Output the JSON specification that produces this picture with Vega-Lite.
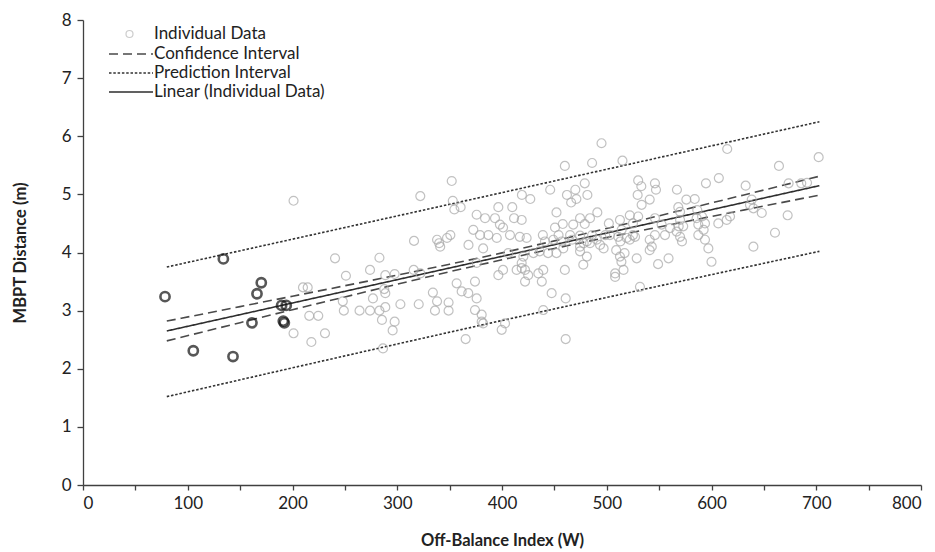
{
  "$schema": "https://vega.github.io/schema/vega-lite/v6.json",
  "width": 838,
  "height": 465,
  "autosize": {"type": "none"},
  "padding": {"left": 83, "top": 20, "right": 14, "bottom": 67},
  "config": {
    "view": {"stroke": null},
    "font": "Lato",
    "axis": {"domainColor": "#404040", "tickColor": "#404040", "labelColor": "#222222", "titleColor": "#222222", "labelFont": "Lato", "titleFont": "Lato", "labelFontSize": 17, "titleFontSize": 16.5, "titleFontWeight": "bold", "grid": false, "tickSize": 5, "domainWidth": 1.3, "tickWidth": 1.3},
    "legend": {"labelFont": "Lato", "labelFontSize": 17, "labelColor": "#222222", "labelLimit": 0, "title": null}
  },
  "datasets": {
    "gray": [
      {"x":201,"y":4.89,"series":"Individual Data"},{"x":240.6,"y":3.90,"series":"Individual Data"},{"x":251,"y":3.60,"series":"Individual Data"},{"x":210,"y":3.40,"series":"Individual Data"},{"x":214.5,"y":3.40,"series":"Individual Data"},{"x":216,"y":2.91,"series":"Individual Data"},{"x":224.6,"y":2.91,"series":"Individual Data"},{"x":201,"y":2.61,"series":"Individual Data"},{"x":218,"y":2.46,"series":"Individual Data"},{"x":231,"y":2.61,"series":"Individual Data"},{"x":248,"y":3.16,"series":"Individual Data"},{"x":249,"y":3.00,"series":"Individual Data"},{"x":264,"y":3.00,"series":"Individual Data"},
      {"x":322,"y":4.97,"series":"Individual Data"},{"x":352,"y":5.23,"series":"Individual Data"},{"x":353,"y":4.89,"series":"Individual Data"},{"x":354.5,"y":4.74,"series":"Individual Data"},{"x":360.5,"y":4.78,"series":"Individual Data"},{"x":316,"y":4.20,"series":"Individual Data"},{"x":338,"y":4.22,"series":"Individual Data"},{"x":340,"y":4.16,"series":"Individual Data"},{"x":341,"y":4.10,"series":"Individual Data"},{"x":347.5,"y":4.25,"series":"Individual Data"},{"x":350.7,"y":4.30,"series":"Individual Data"},{"x":283,"y":3.91,"series":"Individual Data"},{"x":274,"y":3.70,"series":"Individual Data"},{"x":288.6,"y":3.61,"series":"Individual Data"},{"x":297.5,"y":3.63,"series":"Individual Data"},{"x":315.7,"y":3.70,"series":"Individual Data"},{"x":322,"y":3.64,"series":"Individual Data"},{"x":287.6,"y":3.37,"series":"Individual Data"},{"x":288.6,"y":3.30,"series":"Individual Data"},{"x":276.8,"y":3.21,"series":"Individual Data"},{"x":334,"y":3.31,"series":"Individual Data"},{"x":338,"y":3.16,"series":"Individual Data"},{"x":349,"y":3.14,"series":"Individual Data"},{"x":274,"y":3.00,"series":"Individual Data"},{"x":283,"y":3.00,"series":"Individual Data"},{"x":288.6,"y":3.06,"series":"Individual Data"},{"x":303,"y":3.11,"series":"Individual Data"},{"x":320.5,"y":3.11,"series":"Individual Data"},{"x":336,"y":3.00,"series":"Individual Data"},{"x":349,"y":3.00,"series":"Individual Data"},{"x":285.4,"y":2.84,"series":"Individual Data"},{"x":297.5,"y":2.81,"series":"Individual Data"},{"x":295.6,"y":2.66,"series":"Individual Data"},{"x":286.4,"y":2.35,"series":"Individual Data"},
      {"x":495,"y":5.88,"series":"Individual Data"},{"x":460,"y":5.49,"series":"Individual Data"},{"x":486,"y":5.54,"series":"Individual Data"},{"x":515,"y":5.58,"series":"Individual Data"},{"x":479,"y":5.19,"series":"Individual Data"},{"x":446,"y":5.08,"series":"Individual Data"},{"x":419,"y":4.99,"series":"Individual Data"},{"x":427,"y":4.92,"series":"Individual Data"},{"x":462,"y":4.99,"series":"Individual Data"},{"x":470,"y":5.08,"series":"Individual Data"},{"x":481.5,"y":4.99,"series":"Individual Data"},{"x":466,"y":4.86,"series":"Individual Data"},{"x":471,"y":4.92,"series":"Individual Data"},{"x":530,"y":5.24,"series":"Individual Data"},{"x":533,"y":5.14,"series":"Individual Data"},{"x":529.5,"y":4.99,"series":"Individual Data"},{"x":396.5,"y":4.78,"series":"Individual Data"},{"x":409.8,"y":4.78,"series":"Individual Data"},{"x":375.8,"y":4.65,"series":"Individual Data"},{"x":383.8,"y":4.59,"series":"Individual Data"},{"x":393.3,"y":4.59,"series":"Individual Data"},{"x":411.5,"y":4.59,"series":"Individual Data"},{"x":418.8,"y":4.56,"series":"Individual Data"},{"x":452,"y":4.69,"series":"Individual Data"},{"x":474.5,"y":4.59,"series":"Individual Data"},{"x":484,"y":4.59,"series":"Individual Data"},{"x":491,"y":4.69,"series":"Individual Data"},{"x":530,"y":4.62,"series":"Individual Data"},{"x":522,"y":4.64,"series":"Individual Data"},{"x":512.6,"y":4.56,"series":"Individual Data"},{"x":398,"y":4.48,"series":"Individual Data"},{"x":401,"y":4.43,"series":"Individual Data"},{"x":372.6,"y":4.39,"series":"Individual Data"},{"x":450.6,"y":4.43,"series":"Individual Data"},{"x":458,"y":4.49,"series":"Individual Data"},{"x":468,"y":4.48,"series":"Individual Data"},{"x":479,"y":4.49,"series":"Individual Data"},{"x":502,"y":4.50,"series":"Individual Data"},{"x":379,"y":4.30,"series":"Individual Data"},{"x":387,"y":4.30,"series":"Individual Data"},{"x":395,"y":4.25,"series":"Individual Data"},{"x":407.6,"y":4.30,"series":"Individual Data"},{"x":417,"y":4.27,"series":"Individual Data"},{"x":423.5,"y":4.25,"series":"Individual Data"},{"x":368,"y":4.13,"series":"Individual Data"},{"x":382,"y":4.07,"series":"Individual Data"},{"x":439,"y":4.30,"series":"Individual Data"},{"x":441,"y":4.19,"series":"Individual Data"},{"x":449,"y":4.22,"series":"Individual Data"},{"x":457,"y":4.19,"series":"Individual Data"},{"x":465,"y":4.30,"series":"Individual Data"},{"x":474.5,"y":4.29,"series":"Individual Data"},{"x":481,"y":4.19,"series":"Individual Data"},{"x":490.4,"y":4.22,"series":"Individual Data"},{"x":503,"y":4.30,"series":"Individual Data"},{"x":511,"y":4.27,"series":"Individual Data"},{"x":519,"y":4.25,"series":"Individual Data"},{"x":525,"y":4.30,"series":"Individual Data"},{"x":406,"y":3.99,"series":"Individual Data"},{"x":420.4,"y":3.93,"series":"Individual Data"},{"x":430,"y":3.99,"series":"Individual Data"},{"x":436,"y":4.02,"series":"Individual Data"},{"x":444,"y":3.99,"series":"Individual Data"},{"x":452,"y":3.99,"series":"Individual Data"},{"x":458.5,"y":4.07,"series":"Individual Data"},{"x":474.5,"y":4.10,"series":"Individual Data"},{"x":484,"y":4.16,"series":"Individual Data"},{"x":493.6,"y":4.13,"series":"Individual Data"},{"x":474.5,"y":4.02,"series":"Individual Data"},{"x":481,"y":3.93,"series":"Individual Data"},{"x":477.6,"y":3.79,"series":"Individual Data"},{"x":509,"y":4.04,"series":"Individual Data"},{"x":517,"y":3.99,"series":"Individual Data"},{"x":528.6,"y":3.90,"series":"Individual Data"},{"x":512.6,"y":3.93,"series":"Individual Data"},{"x":375.8,"y":3.82,"series":"Individual Data"},{"x":414,"y":3.70,"series":"Individual Data"},{"x":418.8,"y":3.73,"series":"Individual Data"},{"x":422,"y":3.70,"series":"Individual Data"},{"x":418.8,"y":3.82,"series":"Individual Data"},{"x":396.5,"y":3.61,"series":"Individual Data"},{"x":401,"y":3.70,"series":"Individual Data"},{"x":425,"y":3.61,"series":"Individual Data"},{"x":434.7,"y":3.64,"series":"Individual Data"},{"x":439.4,"y":3.70,"series":"Individual Data"},{"x":460,"y":3.70,"series":"Individual Data"},{"x":422,"y":3.50,"series":"Individual Data"},{"x":438,"y":3.50,"series":"Individual Data"},{"x":508,"y":3.64,"series":"Individual Data"},{"x":508,"y":3.58,"series":"Individual Data"},{"x":516,"y":3.70,"series":"Individual Data"},{"x":356.7,"y":3.47,"series":"Individual Data"},{"x":374.2,"y":3.50,"series":"Individual Data"},{"x":361.5,"y":3.33,"series":"Individual Data"},{"x":367.8,"y":3.30,"series":"Individual Data"},{"x":375.8,"y":3.21,"series":"Individual Data"},{"x":374.2,"y":3.01,"series":"Individual Data"},{"x":380.6,"y":2.93,"series":"Individual Data"},{"x":439.4,"y":3.01,"series":"Individual Data"},{"x":447.4,"y":3.30,"series":"Individual Data"},{"x":460.8,"y":3.21,"series":"Individual Data"},{"x":380.6,"y":2.81,"series":"Individual Data"},{"x":382,"y":2.78,"series":"Individual Data"},{"x":399.7,"y":2.67,"series":"Individual Data"},{"x":402.9,"y":2.78,"series":"Individual Data"},{"x":365.3,"y":2.51,"series":"Individual Data"},{"x":460.8,"y":2.51,"series":"Individual Data"},
      {"x":615,"y":5.78,"series":"Individual Data"},{"x":546,"y":5.19,"series":"Individual Data"},{"x":547,"y":5.08,"series":"Individual Data"},{"x":541,"y":4.91,"series":"Individual Data"},{"x":533.3,"y":4.82,"series":"Individual Data"},{"x":567,"y":5.08,"series":"Individual Data"},{"x":594.7,"y":5.19,"series":"Individual Data"},{"x":607,"y":5.28,"series":"Individual Data"},{"x":632.6,"y":5.15,"series":"Individual Data"},{"x":664.4,"y":5.49,"series":"Individual Data"},{"x":576,"y":4.91,"series":"Individual Data"},{"x":584,"y":4.92,"series":"Individual Data"},{"x":568.3,"y":4.78,"series":"Individual Data"},{"x":570,"y":4.70,"series":"Individual Data"},{"x":586.4,"y":4.73,"series":"Individual Data"},{"x":636.7,"y":4.82,"series":"Individual Data"},{"x":638.4,"y":4.91,"series":"Individual Data"},{"x":648,"y":4.68,"series":"Individual Data"},{"x":525,"y":4.50,"series":"Individual Data"},{"x":546,"y":4.59,"series":"Individual Data"},{"x":570,"y":4.56,"series":"Individual Data"},{"x":573,"y":4.45,"series":"Individual Data"},{"x":585.8,"y":4.59,"series":"Individual Data"},{"x":593.8,"y":4.50,"series":"Individual Data"},{"x":606.5,"y":4.50,"series":"Individual Data"},{"x":614.5,"y":4.56,"series":"Individual Data"},{"x":617.7,"y":4.62,"series":"Individual Data"},{"x":660.6,"y":4.34,"series":"Individual Data"},{"x":514.2,"y":4.39,"series":"Individual Data"},{"x":522,"y":4.22,"series":"Individual Data"},{"x":552.4,"y":4.48,"series":"Individual Data"},{"x":560.4,"y":4.42,"series":"Individual Data"},{"x":566.7,"y":4.36,"series":"Individual Data"},{"x":570,"y":4.27,"series":"Individual Data"},{"x":555.6,"y":4.30,"series":"Individual Data"},{"x":546,"y":4.30,"series":"Individual Data"},{"x":541,"y":4.22,"series":"Individual Data"},{"x":587.4,"y":4.30,"series":"Individual Data"},{"x":593.8,"y":4.22,"series":"Individual Data"},{"x":597,"y":4.07,"series":"Individual Data"},{"x":587.4,"y":4.48,"series":"Individual Data"},{"x":640,"y":4.10,"series":"Individual Data"},{"x":514,"y":3.84,"series":"Individual Data"},{"x":541,"y":4.04,"series":"Individual Data"},{"x":543,"y":4.10,"series":"Individual Data"},{"x":549,"y":3.80,"series":"Individual Data"},{"x":559,"y":3.90,"series":"Individual Data"},{"x":600,"y":3.84,"series":"Individual Data"},{"x":531.7,"y":3.41,"series":"Individual Data"},{"x":568.7,"y":4.45,"series":"Individual Data"},{"x":571.8,"y":4.19,"series":"Individual Data"},{"x":591,"y":4.62,"series":"Individual Data"},{"x":592.5,"y":4.39,"series":"Individual Data"},{"x":702.3,"y":5.64,"series":"Individual Data"},{"x":673.6,"y":5.19,"series":"Individual Data"},{"x":685.7,"y":5.19,"series":"Individual Data"},{"x":691.2,"y":5.20,"series":"Individual Data"},{"x":640,"y":4.76,"series":"Individual Data"},{"x":672.7,"y":4.64,"series":"Individual Data"},
      {"x":454,"y":4.30,"series":"Individual Data"},{"x":467,"y":4.22,"series":"Individual Data"},{"x":478,"y":4.16,"series":"Individual Data"},{"x":486,"y":4.30,"series":"Individual Data"},{"x":497,"y":4.07,"series":"Individual Data"},{"x":498.6,"y":4.30,"series":"Individual Data"},{"x":513,"y":4.19,"series":"Individual Data"},{"x":527,"y":4.27,"series":"Individual Data"}
    ],
    "bold": [
      {"x":78.3,"y":3.24},{"x":105.3,"y":2.31},{"x":134,"y":3.89},{"x":143.2,"y":2.21},{"x":161.3,"y":2.79},{"x":166.1,"y":3.29},{"x":170.2,"y":3.48},{"x":189.6,"y":3.09},{"x":194,"y":3.09},{"x":191.2,"y":2.82},{"x":192.2,"y":2.79}
    ],
    "lines": [
      {"series":"Linear (Individual Data)","bound":"fit","x":80,"y":2.65},{"series":"Linear (Individual Data)","bound":"fit","x":703,"y":5.15},
      {"series":"Confidence Interval","bound":"upper","x":80,"y":2.82},{"series":"Confidence Interval","bound":"upper","x":150,"y":3.069},{"series":"Confidence Interval","bound":"upper","x":200,"y":3.248},{"series":"Confidence Interval","bound":"upper","x":250,"y":3.428},{"series":"Confidence Interval","bound":"upper","x":300,"y":3.611},{"series":"Confidence Interval","bound":"upper","x":350,"y":3.799},{"series":"Confidence Interval","bound":"upper","x":400,"y":3.994},{"series":"Confidence Interval","bound":"upper","x":450,"y":4.200},{"series":"Confidence Interval","bound":"upper","x":500,"y":4.414},{"series":"Confidence Interval","bound":"upper","x":550,"y":4.632},{"series":"Confidence Interval","bound":"upper","x":600,"y":4.853},{"series":"Confidence Interval","bound":"upper","x":650,"y":5.075},{"series":"Confidence Interval","bound":"upper","x":703,"y":5.312},
      {"series":"Confidence Interval","bound":"lower","x":80,"y":2.48},{"series":"Confidence Interval","bound":"lower","x":150,"y":2.793},{"series":"Confidence Interval","bound":"lower","x":200,"y":3.016},{"series":"Confidence Interval","bound":"lower","x":250,"y":3.236},{"series":"Confidence Interval","bound":"lower","x":300,"y":3.455},{"series":"Confidence Interval","bound":"lower","x":350,"y":3.669},{"series":"Confidence Interval","bound":"lower","x":400,"y":3.874},{"series":"Confidence Interval","bound":"lower","x":450,"y":4.070},{"series":"Confidence Interval","bound":"lower","x":500,"y":4.258},{"series":"Confidence Interval","bound":"lower","x":550,"y":4.440},{"series":"Confidence Interval","bound":"lower","x":600,"y":4.621},{"series":"Confidence Interval","bound":"lower","x":650,"y":4.799},{"series":"Confidence Interval","bound":"lower","x":703,"y":4.988},
      {"series":"Prediction Interval","bound":"upper","x":80,"y":3.75},{"series":"Prediction Interval","bound":"upper","x":400,"y":5.03},{"series":"Prediction Interval","bound":"upper","x":703,"y":6.25},
      {"series":"Prediction Interval","bound":"lower","x":80,"y":1.52},{"series":"Prediction Interval","bound":"lower","x":400,"y":2.83},{"series":"Prediction Interval","bound":"lower","x":703,"y":4.02}
    ]
  },
  "encoding": {
    "x": {"field": "x", "type": "quantitative", "scale": {"domain": [0, 800], "nice": false},
      "axis": {"values": [0,50,100,150,200,250,300,350,400,450,500,550,600,650,700,750,800], "labelExpr": "datum.value % 100 == 0 ? datum.label : ''", "title": "Off-Balance Index (W)", "labelPadding": 5, "titlePadding": 21}},
    "y": {"field": "y", "type": "quantitative", "scale": {"domain": [0, 8], "nice": false},
      "axis": {"values": [0,0.5,1,1.5,2,2.5,3,3.5,4,4.5,5,5.5,6,6.5,7,7.5,8], "format": "d", "labelExpr": "datum.value % 1 == 0 ? datum.label : ''", "title": "MBPT Distance (m)", "labelPadding": 6, "titlePadding": 33,
        "tickSize": {"condition": {"test": "datum.value % 1 == 0", "value": 6}, "value": 4}}}
  },
  "layer": [
    {
      "data": {"name": "lines"},
      "mark": {"type": "line", "interpolate": "monotone"},
      "encoding": {
        "detail": {"field": "bound"},
        "strokeDash": {"field": "series", "type": "nominal",
          "scale": {"domain": ["Confidence Interval", "Prediction Interval", "Linear (Individual Data)"], "range": [[9, 5], [2.5, 1.8], [1, 0]]},
          "legend": {"orient": "none", "legendX": 25, "legendY": 26, "symbolType": "stroke", "symbolSize": 1936, "clipHeight": 16, "rowPadding": 2, "labelOffset": 0}},
        "stroke": {"field": "series", "type": "nominal",
          "scale": {"domain": ["Confidence Interval", "Prediction Interval", "Linear (Individual Data)"], "range": ["#4a4a4a", "#333333", "#2e2e2e"]}},
        "strokeWidth": {"field": "series", "type": "nominal",
          "scale": {"domain": ["Confidence Interval", "Prediction Interval", "Linear (Individual Data)"], "range": [1.6, 1.6, 2.2]}}
      }
    },
    {
      "data": {"name": "gray"},
      "mark": {"type": "point", "filled": false, "size": 80, "stroke": "#a8a8a8", "strokeWidth": 1.2},
      "encoding": {
        "shape": {"field": "series", "type": "nominal",
          "scale": {"domain": ["Individual Data"], "range": ["circle"]},
          "legend": {"orient": "none", "legendX": 38, "legendY": 6, "symbolSize": 49, "symbolStrokeColor": "#b8b8b8", "symbolStrokeWidth": 1.2, "clipHeight": 16, "labelOffset": 16}}
      }
    },
    {
      "data": {"name": "bold"},
      "mark": {"type": "point", "filled": false, "size": 85, "stroke": "#111111", "strokeWidth": 2.6},
      "encoding": {}
    }
  ]
}
